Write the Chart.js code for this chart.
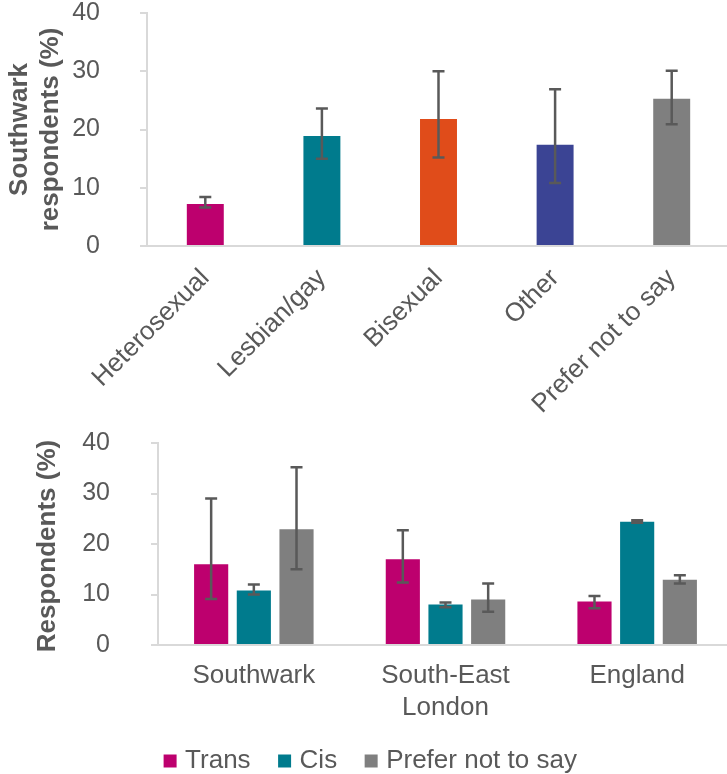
<!DOCTYPE html>
<html>
<head>
<meta charset="utf-8">
<script src="https://cdn.jsdelivr.net/npm/chart.js@4/dist/chart.umd.min.js"></script>
<style>
  html, body { margin: 0; padding: 0; background: #ffffff; overflow: hidden; width: 727px; height: 774px; }
  canvas { display: block; }
</style>
</head>
<body>
<canvas id="orientationChart" width="736" height="420"></canvas>
<canvas id="genderChart" width="736" height="364"></canvas>
<script>
// Share of respondents by sexual orientation (Southwark), with confidence intervals
const orientationLabels = ['Heterosexual', 'Lesbian/gay', 'Bisexual', 'Other', 'Prefer not to say'];
const orientationValues = [7.2, 18.9, 21.8, 17.4, 25.3];
const orientationLow    = [6.6, 15.0, 15.2, 10.8, 20.9];
const orientationHigh   = [8.4, 23.6, 30.0, 26.9, 30.1];

// Share of respondents by gender identity and area, with confidence intervals
const areaLabels  = ['Southwark', ['South-East', 'London'], 'England'];
const seriesNames = ['Trans', 'Cis', 'Prefer not to say'];
const transValues = [16.0, 17.0, 8.6];
const transLow    = [9.1, 12.4, 7.3];
const transHigh   = [29.0, 22.7, 9.7];
const cisValues   = [10.8, 8.0, 24.4];
const cisLow      = [10.0, 7.5, 24.2];
const cisHigh     = [12.0, 8.4, 24.7];
const pntsValues  = [22.9, 9.0, 12.9];
const pntsLow     = [15.0, 6.6, 12.2];
const pntsHigh    = [35.2, 12.2, 13.8];

const yTickValues = [0, 10, 20, 30, 40];

const MAGENTA = '#BD006E';
const TEAL = '#007B8D';
const ORANGE = '#E04C1A';
const NAVY = '#3B4494';
const GREY = '#7F7F7F';
const TEXT = '#595959';
const AXIS = '#D9D9D9';
const FONT = "'Liberation Sans', Arial, sans-serif";

// Draws whisker error bars for datasets carrying errLow / errHigh arrays
const errorBars = {
  id: 'errorBars',
  afterDatasetsDraw(chart, args, opts) {
    const ctx = chart.ctx;
    const yScale = chart.scales.y;
    chart.data.datasets.forEach((ds, i) => {
      if (!ds.errLow) return;
      const meta = chart.getDatasetMeta(i);
      meta.data.forEach((bar, j) => {
        const x = bar.x;
        const yLo = yScale.getPixelForValue(ds.errLow[j]);
        const yHi = yScale.getPixelForValue(ds.errHigh[j]);
        ctx.save();
        ctx.strokeStyle = opts.color;
        ctx.lineWidth = opts.width;
        ctx.beginPath();
        ctx.moveTo(x, yLo); ctx.lineTo(x, yHi);
        ctx.moveTo(x - opts.cap, yLo); ctx.lineTo(x + opts.cap, yLo);
        ctx.moveTo(x - opts.cap, yHi); ctx.lineTo(x + opts.cap, yHi);
        ctx.stroke();
        ctx.restore();
      });
    });
  }
};

// Vertical axis title that may run longer than the plot height (no squeezing)
const sideTitle = {
  id: 'sideTitle',
  afterDraw(chart, args, opts) {
    if (!opts.text) return;
    const { ctx, chartArea } = chart;
    ctx.save();
    ctx.translate(opts.x, (chartArea.top + chartArea.bottom) / 2 + (opts.dy || 0));
    ctx.rotate(-Math.PI / 2);
    ctx.font = 'bold ' + opts.size + 'px ' + FONT;
    ctx.fillStyle = TEXT;
    ctx.textAlign = 'center';
    ctx.textBaseline = 'middle';
    ctx.fillText(opts.text, 0, 0);
    ctx.restore();
  }
};

function yAxis(titleText, titlePad, axisWidth, tickPad) {
  return {
    min: 0,
    max: 40,
    afterBuildTicks: s => { s.ticks = yTickValues.map(v => ({ value: v })); },
    afterFit: s => {
      s.width = axisWidth;
      // keep the wide label gap from inflating the plot's top/bottom margins
      s.paddingTop = 12;
      s.paddingBottom = 12;
    },
    grid: { drawOnChartArea: false, drawTicks: true, tickLength: 7, color: AXIS, lineWidth: 2 },
    border: { display: true, color: AXIS, width: 2 },
    ticks: { color: TEXT, padding: tickPad, font: { family: FONT, size: 25, lineHeight: 1 } },
    title: {
      display: !!titleText,
      text: titleText || '',
      color: TEXT,
      padding: { top: titlePad, bottom: 0 },
      font: { family: FONT, size: 26, weight: 'bold', lineHeight: 1.2 }
    }
  };
}

new Chart(document.getElementById('orientationChart'), {
  type: 'bar',
  data: {
    labels: orientationLabels,
    datasets: [{
      label: 'Southwark respondents',
      data: orientationValues,
      errLow: orientationLow,
      errHigh: orientationHigh,
      backgroundColor: [MAGENTA, TEAL, ORANGE, NAVY, GREY],
      barPercentage: 0.317,
      categoryPercentage: 1.0
    }]
  },
  options: {
    responsive: false,
    animation: false,
    devicePixelRatio: 1,
    layout: { padding: { top: 13, right: 6, bottom: 0, left: 0 } },
    plugins: {
      legend: { display: false },
      tooltip: { enabled: false },
      errorBars: { color: '#595959', width: 2.5, cap: 6 }
    },
    scales: {
      x: {
        afterFit: s => { s.height = 174; },
        grid: { display: false, drawTicks: false },
        border: { display: true, color: AXIS, width: 2 },
        ticks: {
          autoSkip: false, minRotation: 45, maxRotation: 45, padding: 17,
          color: TEXT, font: { family: FONT, size: 26 }
        }
      },
      y: yAxis(['Southwark', 'respondents (%)'], 4, 147, 40)
    }
  },
  plugins: [errorBars]
});

new Chart(document.getElementById('genderChart'), {
  type: 'bar',
  data: {
    labels: areaLabels,
    datasets: [
      { label: seriesNames[0], data: transValues, errLow: transLow, errHigh: transHigh, backgroundColor: MAGENTA },
      { label: seriesNames[1], data: cisValues, errLow: cisLow, errHigh: cisHigh, backgroundColor: TEAL },
      { label: seriesNames[2], data: pntsValues, errLow: pntsLow, errHigh: pntsHigh, backgroundColor: GREY }
    ]
  },
  options: {
    responsive: false,
    animation: false,
    devicePixelRatio: 1,
    datasets: { bar: { barPercentage: 0.8, categoryPercentage: 0.668 } },
    layout: { padding: { top: 23, right: 3, bottom: 0, left: 12 } },
    plugins: {
      legend: {
        position: 'bottom',
        labels: {
          usePointStyle: true,
          pointStyle: 'rect',
          boxWidth: 4,
          boxHeight: 13,
          padding: 32,
          color: TEXT,
          font: { family: FONT, size: 26 }
        }
      },
      tooltip: { enabled: false },
      errorBars: { color: '#595959', width: 2.5, cap: 6 },
      sideTitle: { text: 'Respondents (%)', x: 48, size: 26, dy: 2 }
    },
    scales: {
      x: {
        afterFit: s => { s.height = 71; },
        grid: { display: false, drawTicks: false },
        border: { display: true, color: AXIS, width: 2 },
        ticks: {
          autoSkip: false, maxRotation: 0, padding: 15,
          color: TEXT, font: { family: FONT, size: 26, lineHeight: 1.23 }
        }
      },
      y: yAxis(null, 0, 146, 41)
    }
  },
  plugins: [errorBars, sideTitle]
});
</script>
</body>
</html>
